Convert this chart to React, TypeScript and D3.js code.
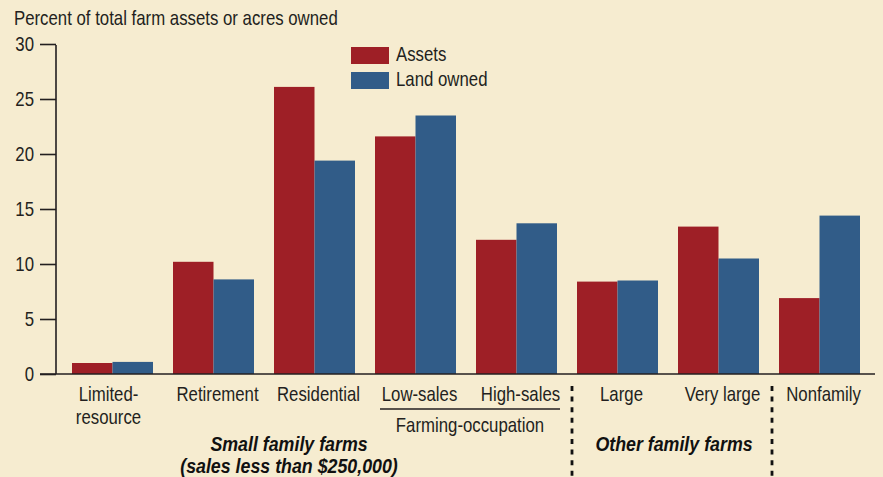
import React, { useEffect, useRef } from 'react';
import * as d3 from 'd3';

// farm types along the x axis (two-line labels split by \n)
const categories = [
  'Limited-\nresource',
  'Retirement',
  'Residential',
  'Low-sales',
  'High-sales',
  'Large',
  'Very large',
  'Nonfamily',
];

// percent of total farm assets
const assets = [1.0, 10.2, 26.1, 21.6, 12.2, 8.4, 13.4, 6.9];
// percent of acres owned
const landOwned = [1.1, 8.6, 19.4, 23.5, 13.7, 8.5, 10.5, 14.4];

const yTicks = [0, 5, 10, 15, 20, 25, 30];
const seriesNames = ['Assets', 'Land owned'];

const FONT = "'Liberation Sans', Arial, sans-serif";
const SX = 0.84; // squeeze to mimic a condensed face
const SXB = 0.89; // bold italic headings are a bit wider
const RED = '#9e1f26';
const BG = '#f6ecd0';
const BLUE = '#315c88';
const INK = '#231f20';

type Sel = d3.Selection<any, any, any, any>;

// condensed text: a group translated to (x,y), squeezed horizontally
function addText(parent: Sel, x: number, y: number, str: string, anchor = 'start', bold = false) {
  const t = parent
    .append('g')
    .attr('transform', 'translate(' + x + ',' + y + ') scale(' + (bold ? SXB : SX) + ',1)')
    .append('text')
    .style('font-family', FONT)
    .style('font-size', '20px')
    .style('fill', bold ? '#111' : INK)
    .style('text-anchor', anchor)
    .text(str);
  if (bold) t.style('font-weight', 'bold').style('font-style', 'italic');
  return t;
}

export default function App() {
  const ref = useRef<SVGSVGElement>(null);

  useEffect(() => {
    const svg = d3.select(ref.current);
    svg.selectAll('*').remove();

    const width = 883;
    const height = 477;

    svg.append('rect').attr('width', width).attr('height', height).style('fill', BG);

    const x = d3
      .scaleBand()
      .domain(categories)
      .range([62, 870])
      .paddingInner(0.198)
      .paddingOuter(0.099);

    const inner = d3.scaleBand().domain(seriesNames).range([0, x.bandwidth()]);

    const y = d3.scaleLinear().domain([0, 30]).range([374, 44]);

    // title
    addText(svg, 14, 25, 'Percent of total farm assets or acres owned');

    // bars
    const rows = categories.map((c, i) => ({ cat: c, values: [assets[i], landOwned[i]] }));
    const colors = [RED, BLUE];

    const groups = svg
      .selectAll('g.group')
      .data(rows)
      .enter()
      .append('g')
      .attr('class', 'group')
      .attr('transform', (d) => 'translate(' + x(d.cat) + ',0)');

    groups
      .selectAll('rect')
      .data((d) => d.values.map((v, j) => ({ v, j })))
      .enter()
      .append('rect')
      .attr('x', (d) => inner(seriesNames[d.j]) as number)
      .attr('width', inner.bandwidth())
      .attr('y', (d) => y(d.v))
      .attr('height', (d) => y(0) - y(d.v))
      .style('fill', (d) => colors[d.j]);

    // y axis (tick marks from d3, labels drawn condensed)
    const yAxis = d3.axisLeft(y).tickValues(yTicks).tickSize(16).tickFormat(() => '');
    const yg = svg.append('g').attr('transform', 'translate(56,0)').call(yAxis);
    yg.select('.domain').remove();
    yg.selectAll('.tick line').style('stroke', INK).style('stroke-width', 1.6);
    yTicks.forEach((t) => addText(svg, 34, y(t) + 7, String(t), 'end'));

    svg
      .append('line')
      .attr('x1', 56)
      .attr('x2', 56)
      .attr('y1', y(30) + 1)
      .attr('y2', y(0))
      .style('stroke', INK)
      .style('stroke-width', 1.6);

    svg
      .append('line')
      .attr('x1', 40)
      .attr('x2', 875)
      .attr('y1', y(0))
      .attr('y2', y(0))
      .style('stroke', INK)
      .style('stroke-width', 1.6);

    // category labels
    categories.forEach((c, i) => {
      const cx = (x(c) as number) + x.bandwidth() / 2 + (i === 0 ? -4 : 4);
      c.split('\n').forEach((line, k) => addText(svg, cx, 401 + k * 23, line, 'middle'));
    });

    // farming-occupation bracket
    svg
      .append('line')
      .attr('x1', 380)
      .attr('x2', 560)
      .attr('y1', 409)
      .attr('y2', 409)
      .style('stroke', INK)
      .style('stroke-width', 1.4);
    addText(svg, 470, 432, 'Farming-occupation', 'middle');

    // group titles
    addText(svg, 289, 451, 'Small family farms', 'middle', true);
    addText(svg, 289, 473, '(sales less than $250,000)', 'middle', true);
    addText(svg, 674, 451, 'Other family farms', 'middle', true);

    // dotted separators between farm classes
    const sepX = [
      (x('High-sales') as number) + x.bandwidth() + 15,
      (x('Very large') as number) + x.bandwidth() + 13,
    ];
    svg
      .selectAll('line.sep')
      .data(sepX)
      .enter()
      .append('line')
      .attr('class', 'sep')
      .attr('x1', (d) => d)
      .attr('x2', (d) => d)
      .attr('y1', 386)
      .attr('y2', 477)
      .style('stroke', '#111')
      .style('stroke-width', 2.8)
      .style('stroke-dasharray', '5,5.6');

    // legend
    seriesNames.forEach((name, i) => {
      svg
        .append('rect')
        .attr('x', 351)
        .attr('y', 47 + i * 25)
        .attr('width', 38)
        .attr('height', 17)
        .style('fill', colors[i]);
      addText(svg, 396, 61 + i * 25, name);
    });
  }, []);

  return (
    <svg
      ref={ref}
      width={883}
      height={477}
      style={{ position: 'absolute', left: 0, top: 0, display: 'block' }}
    />
  );
}
